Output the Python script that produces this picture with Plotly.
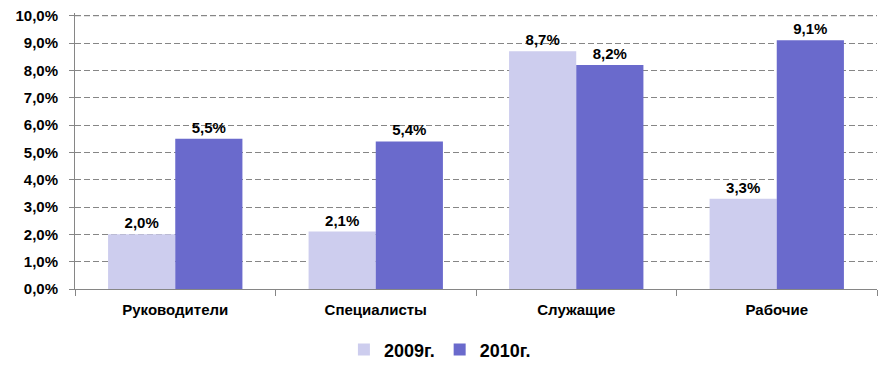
import plotly.graph_objects as go

categories = ["Руководители", "Специалисты", "Служащие", "Рабочие"]
values_2009 = [2.0, 2.1, 8.7, 3.3]
values_2010 = [5.5, 5.4, 8.2, 9.1]
series_names = ["2009г.", "2010г."]
y_ticks = [0, 1, 2, 3, 4, 5, 6, 7, 8, 9, 10]
y_max = y_ticks[-1]

font_family = "Liberation Sans, Arial, sans-serif"
label_font = dict(family=font_family, size=15, color="black")
grid_color = "#868686"

fig = go.Figure()
for name, vals, color in [(series_names[0], values_2009, "#CDCDEE"),
                          (series_names[1], values_2010, "#6A6ACC")]:
    fig.add_trace(go.Bar(
        x=categories, y=vals, name=name,
        marker=dict(color=color, line=dict(width=0)),
        texttemplate="<b>%{y:.1f}%</b>", textposition="outside",
        textfont=label_font, cliponaxis=False,
    ))

# top gridline drawn explicitly as well
fig.add_shape(type="line", xref="paper", yref="y", x0=0, x1=1, y0=y_max, y1=y_max,
              line=dict(color=grid_color, width=1, dash="6px,3px"), layer="below")

# page body has an 8px default margin, so margins are compensated
fig.update_layout(
    width=895, height=374,
    margin=dict(l=67, r=26, t=5, b=93, autoexpand=False),
    paper_bgcolor="white", plot_bgcolor="white",
    separators=", ",
    barmode="group", bargap=0.33, bargroupgap=0,
    font=dict(family=font_family, color="black"),
    showlegend=True,
    legend=dict(orientation="h", x=0.455, xanchor="center",
                yref="container", y=0.086, yanchor="middle",
                font=dict(family=font_family, size=18, color="black", weight="bold"),
                itemwidth=30, traceorder="normal"),
    uniformtext=dict(mode=False),
)
fig.update_xaxes(
    automargin=False,
    showline=True, linecolor=grid_color, linewidth=1,
    ticks="outside", tickson="boundaries", ticklen=6, tickcolor=grid_color,
    ticklabelstandoff=7,
    tickfont=dict(family=font_family, size=15, color="black", weight="bold"),
    showgrid=False,
)
fig.update_yaxes(
    automargin=False,
    range=[0, y_max + 0.1], tickvals=y_ticks,
    ticktext=[f"<b>{v},0%</b>" for v in y_ticks],
    ticklabeloverflow="allow",
    showline=True, linecolor=grid_color, linewidth=1,
    ticks="outside", ticklen=5, tickcolor=grid_color,
    ticklabelstandoff=8,
    tickfont=dict(family=font_family, size=15, color="black"),
    showgrid=True, gridcolor=grid_color, griddash="6px,3px", gridwidth=1,
    zeroline=False,
)

fig.write_html("out.html")
